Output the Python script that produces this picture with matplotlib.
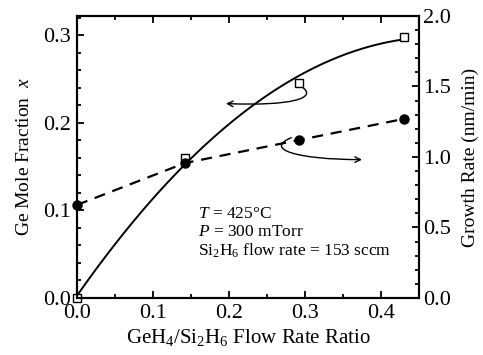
import matplotlib
matplotlib.use('Agg')
import matplotlib.pyplot as plt
import numpy as np
from matplotlib.path import Path
from matplotlib.patches import FancyArrowPatch
from matplotlib.ticker import MultipleLocator

plt.rcParams['font.family'] = 'Liberation Serif'
plt.rcParams['mathtext.fontset'] = 'custom'
plt.rcParams['mathtext.rm'] = 'Liberation Serif'
plt.rcParams['mathtext.it'] = 'Liberation Serif:italic'

# data
ratio = [0.0, 0.142, 0.292, 0.430]
ge_frac = [0.0, 0.160, 0.246, 0.298]
growth = [0.66, 0.957, 1.12, 1.27]

fig = plt.figure(figsize=(4.83, 3.55), dpi=100)
ax = fig.add_axes([0.1594, 0.1606, 0.7081, 0.7944])
ax2 = ax.twinx()

# smooth fit through the Ge fraction points
c = np.polyfit(ratio, ge_frac, 2)
xf = np.linspace(0, ratio[-1], 100)
ax.plot(xf, np.polyval(c, xf), color='black', lw=1.4)
ax.plot(ratio, ge_frac, 's', mfc='white', mec='black', ms=6, mew=1.0, zorder=5, clip_on=False)

ax2.plot(ratio, growth, '--', color='black', lw=1.6, dashes=(5, 3.5))
ax2.plot(ratio, growth, 'o', color='black', ms=6.5, clip_on=False, zorder=5)

ax.set_xlim(0, 0.45)
ax.set_ylim(0, 0.322)
ax2.set_ylim(0, 2.0)

ax.xaxis.set_major_locator(MultipleLocator(0.1))
ax.xaxis.set_minor_locator(MultipleLocator(0.05))
ax.yaxis.set_major_locator(MultipleLocator(0.1))
ax.yaxis.set_minor_locator(MultipleLocator(0.02))
ax2.yaxis.set_major_locator(MultipleLocator(0.5))
ax2.yaxis.set_minor_locator(MultipleLocator(0.1))

ax.tick_params(which='both', direction='in', top=True, labelsize=16, width=1.3, pad=4.5)
ax.tick_params(which='major', length=5)
ax.tick_params(which='minor', length=3)
ax2.tick_params(which='both', direction='in', labelsize=16, width=1.3, pad=3)
ax2.tick_params(which='major', length=5)
ax2.tick_params(which='minor', length=3)
for a in (ax, ax2):
    for s in a.spines.values():
        s.set_linewidth(1.5)

ax.set_xlabel('GeH$_\\mathregular{4}$/Si$_\\mathregular{2}$H$_\\mathregular{6}$ Flow Rate Ratio', fontsize=15, labelpad=3)
ax.set_ylabel('Ge Mole Fraction  $x$', fontsize=14, labelpad=7)
ax2.set_ylabel('Growth Rate (nm/min)', fontsize=14, labelpad=8)

ax.text(0.159, 0.0915, '$T$ = 425°C', fontsize=12.5)
ax.text(0.159, 0.0705, '$P$ = 300 mTorr', fontsize=12.5)
ax.text(0.159, 0.0485, 'Si$_\\mathregular{2}$H$_\\mathregular{6}$ flow rate = 153 sccm', fontsize=12.5)

# curved arrows pointing to the axes
p1 = Path([(0.296, 0.241), (0.318, 0.228), (0.28, 0.219), (0.196, 0.222)],
          [Path.MOVETO, Path.CURVE4, Path.CURVE4, Path.CURVE4])
ax.add_patch(FancyArrowPatch(path=p1, arrowstyle='->', mutation_scale=10, lw=1.0, color='black'))
p2 = Path([(0.282, 0.183), (0.245, 0.170), (0.29, 0.158), (0.375, 0.158)],
          [Path.MOVETO, Path.CURVE4, Path.CURVE4, Path.CURVE4])
ax.add_patch(FancyArrowPatch(path=p2, arrowstyle='->', mutation_scale=10, lw=1.0, color='black'))

fig.savefig('out.png', dpi=100)
